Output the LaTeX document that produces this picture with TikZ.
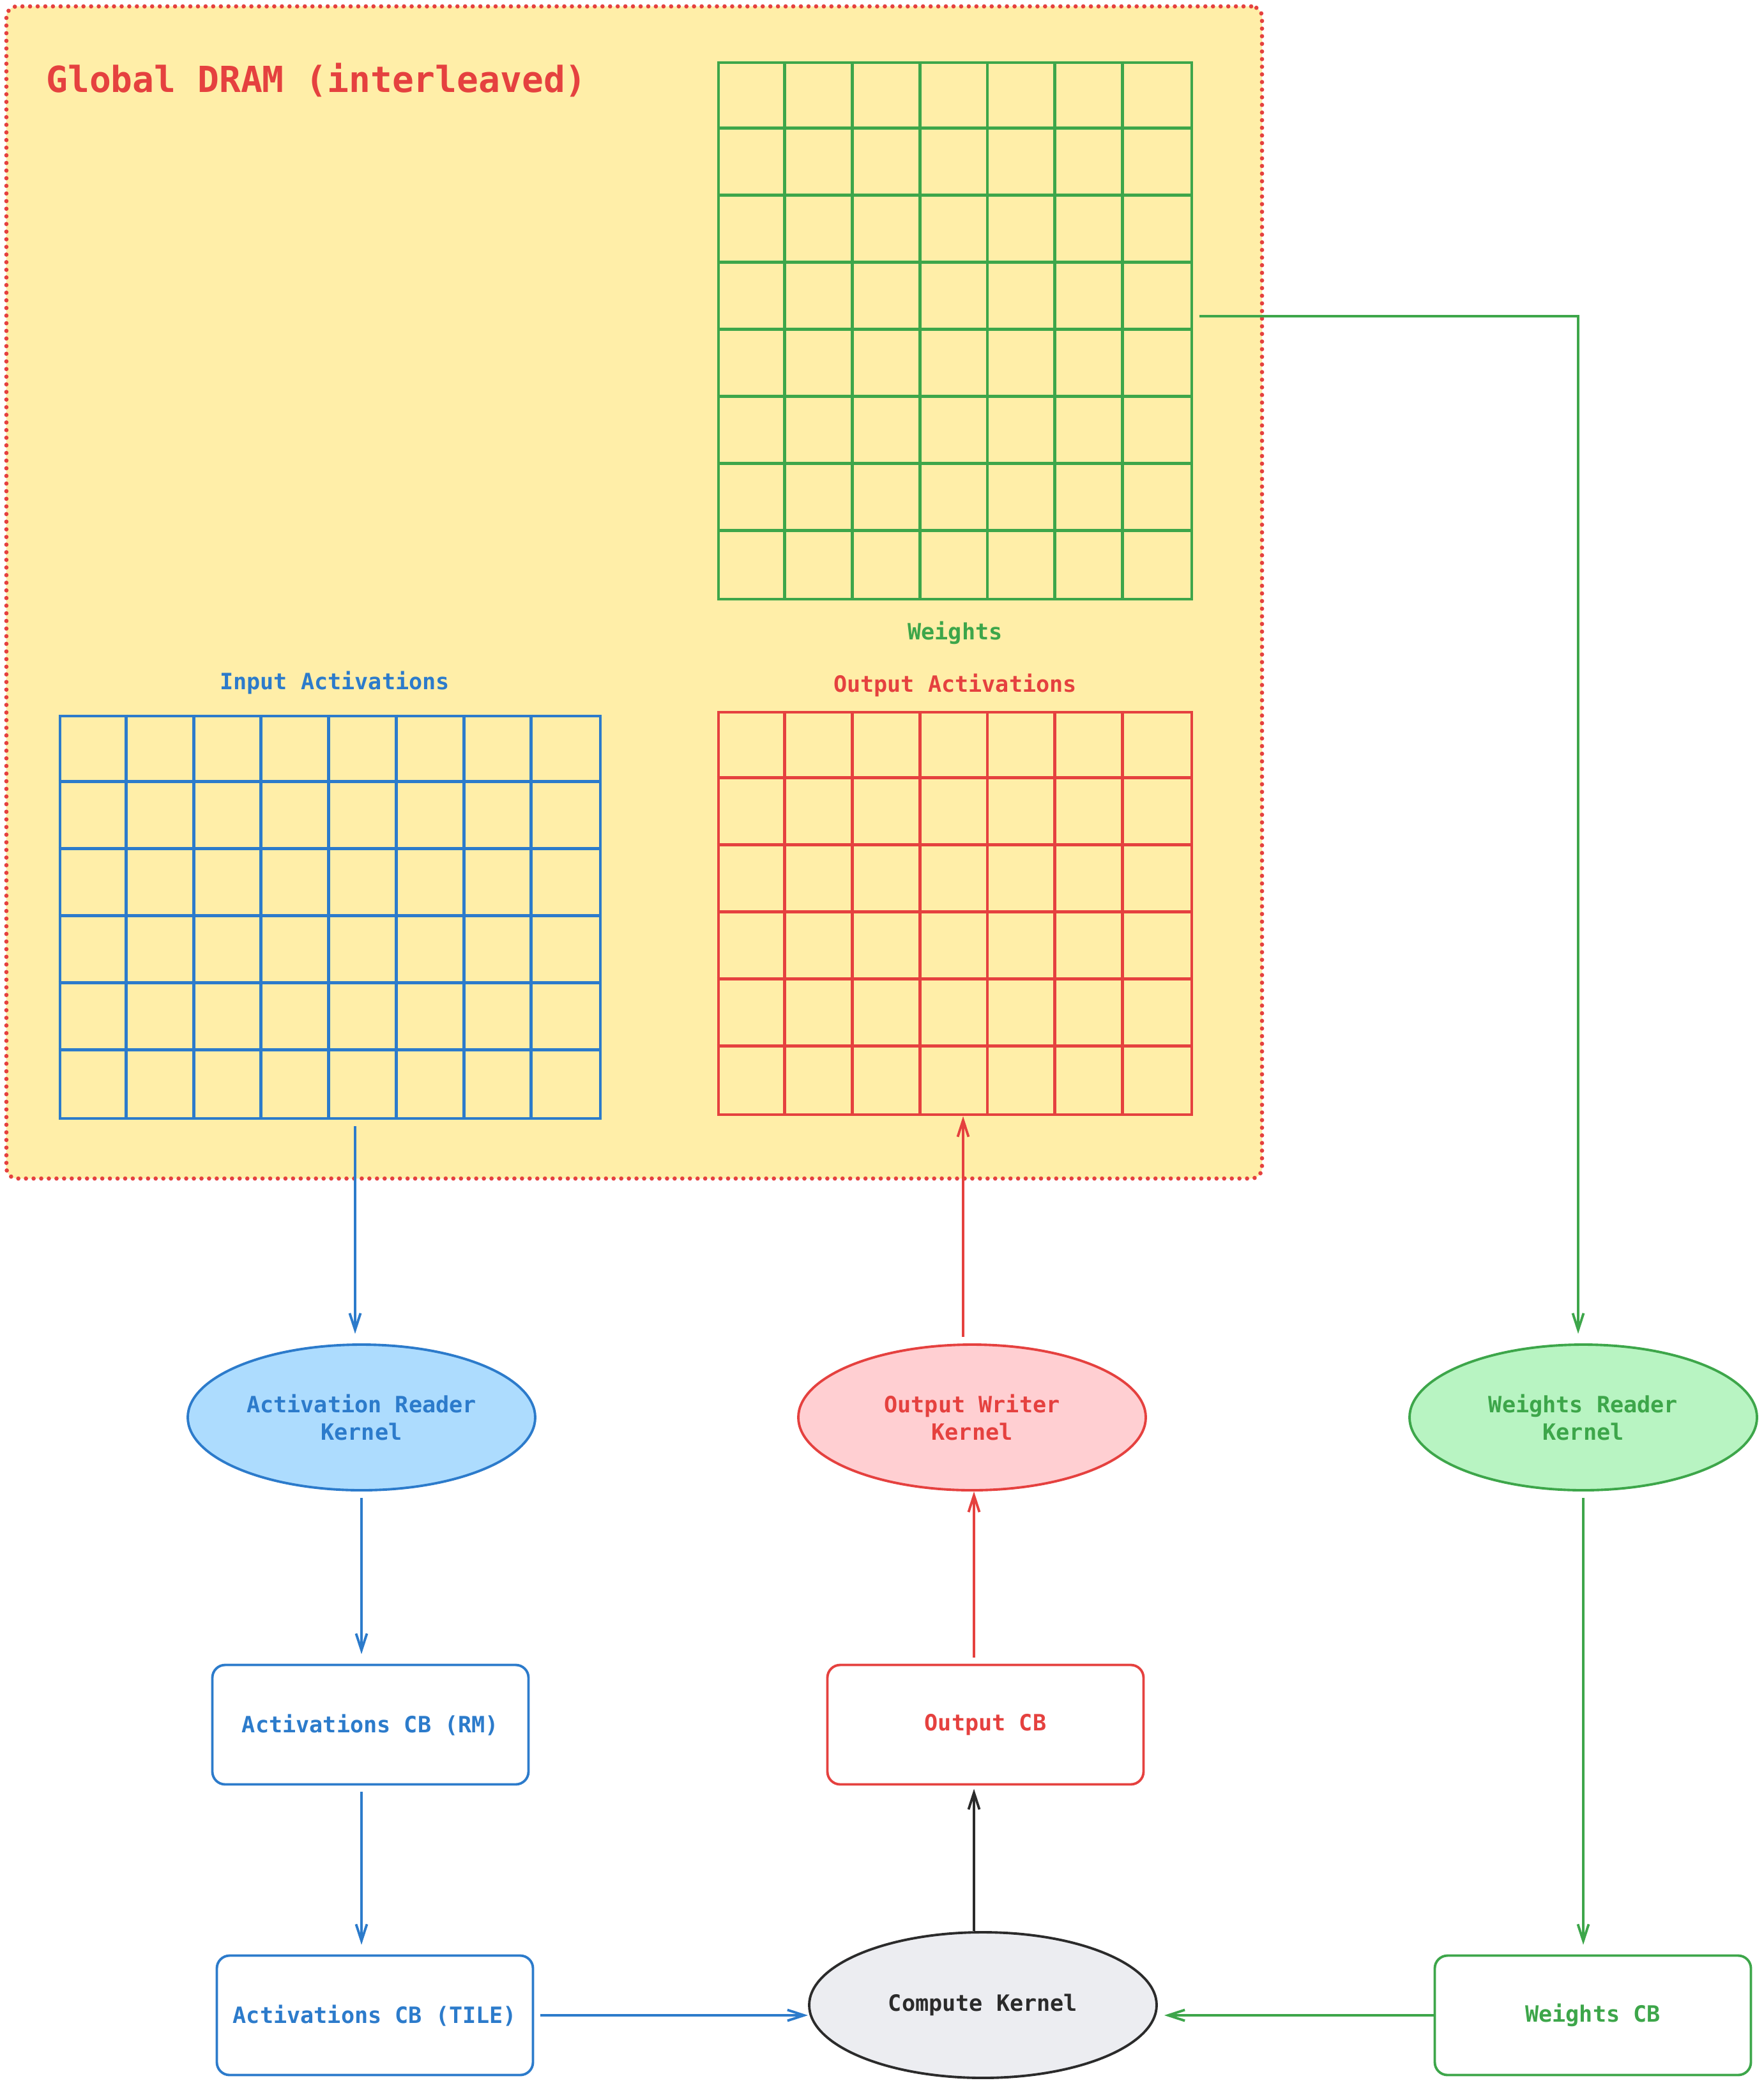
\documentclass[tikz,border=0pt]{standalone}
\usepackage{fontspec}
\setmainfont{DejaVu Sans Mono}
\usetikzlibrary{arrows.meta,calc,positioning,shapes.geometric}

\definecolor{dramfill}{HTML}{FFEEA8}
\definecolor{actblue}{HTML}{2C7BCB}
\definecolor{actfill}{HTML}{ADDCFE}
\definecolor{outred}{HTML}{E5413F}
\definecolor{outfill}{HTML}{FFCFD2}
\definecolor{wgtgreen}{HTML}{3DA64A}
\definecolor{wgtfill}{HTML}{B8F4C2}
\definecolor{cmpfill}{HTML}{ECEDF1}
\definecolor{cmpdark}{HTML}{2B2B2B}

\begin{document}
\begin{tikzpicture}[
	lbl/.style={font=\fontsize{10pt}{12pt}\selectfont\bfseries},
	kernel/.style={ellipse, draw, line width=1.1pt, minimum width=5.44cm, minimum height=2.28cm, align=center, lbl},
	cbuf/.style={rectangle, rounded corners=2mm, draw, fill=white, line width=1.1pt, minimum width=4.95cm, minimum height=1.87cm, lbl},
	tensor/.style={rectangle, draw, line width=1.4pt, inner sep=0pt},
	cell/.style={line width=1.4pt},
	link/.style={line width=1.1pt, -{Straight Barb[length=2.6mm,width=1.7mm]}, shorten <=1mm, shorten >=1.5mm},
	]
	\useasboundingbox (0,0) rectangle (27.62,-32.61);
	%
	\node[rectangle, rounded corners=1.7mm, draw=outred, fill=dramfill, line width=1.9pt, dash pattern=on 0pt off 3.4pt, line cap=round, minimum width=19.66cm, minimum height=18.35cm] (dram) at (9.93,-9.275) {};
	\node[anchor=west, text=outred, font=\fontsize{16pt}{19pt}\selectfont\bfseries] (title) at (0.6,-1.25) {Global DRAM (interleaved)};
	%
	\node[tensor, draw=wgtgreen, minimum width=7.41cm, minimum height=8.40cm] (wgt) at (14.955,-5.18) {};
	\foreach \i in {1,...,6}
		\draw[cell, wgtgreen] ($(wgt.north west)+(\i*1.0586,0)$) -- ($(wgt.south west)+(\i*1.0586,0)$);
	\foreach \j in {1,...,7}
		\draw[cell, wgtgreen] ($(wgt.north west)+(0,-\j*1.05)$) -- ($(wgt.north east)+(0,-\j*1.05)$);
	\node[lbl, text=wgtgreen] (wgtlbl) at ($(wgt.south)+(0,-0.5)$) {Weights};
	%
	\node[tensor, draw=actblue, minimum width=8.46cm, minimum height=6.30cm] (inact) at (5.17,-14.36) {};
	\foreach \i in {1,...,7}
		\draw[cell, actblue] ($(inact.north west)+(\i*1.0575,0)$) -- ($(inact.south west)+(\i*1.0575,0)$);
	\foreach \j in {1,...,5}
		\draw[cell, actblue] ($(inact.north west)+(0,-\j*1.05)$) -- ($(inact.north east)+(0,-\j*1.05)$);
	\node[lbl, text=actblue] (inlbl) at ($(inact.north)+(0.07,0.5)$) {Input Activations};
	%
	\node[tensor, draw=outred, minimum width=7.41cm, minimum height=6.30cm] (outact) at (14.955,-14.30) {};
	\foreach \i in {1,...,6}
		\draw[cell, outred] ($(outact.north west)+(\i*1.0586,0)$) -- ($(outact.south west)+(\i*1.0586,0)$);
	\foreach \j in {1,...,5}
		\draw[cell, outred] ($(outact.north west)+(0,-\j*1.05)$) -- ($(outact.north east)+(0,-\j*1.05)$);
	\node[lbl, text=outred] (outlbl) at ($(outact.north)+(0,0.4)$) {Output Activations};
	%
	\node[kernel, draw=actblue, fill=actfill, text=actblue] (ark) at (5.66,-22.19) {Activation Reader\\Kernel};
	\node[kernel, draw=outred, fill=outfill, text=outred] (owk) at (15.22,-22.19) {Output Writer\\Kernel};
	\node[kernel, draw=wgtgreen, fill=wgtfill, text=wgtgreen] (wrk) at (24.79,-22.19) {Weights Reader\\Kernel};
	\node[kernel, draw=cmpdark, fill=cmpfill, text=cmpdark] (ck) at (15.39,-31.39) {Compute Kernel};
	%
	\node[cbuf, draw=actblue, text=actblue] (acbrm) at (5.80,-27.00) {Activations CB (RM)};
	\node[cbuf, draw=outred, text=outred] (ocb) at (15.43,-27.00) {Output CB};
	\node[cbuf, draw=actblue, text=actblue] (acbtile) at (5.87,-31.55) {Activations CB (TILE)};
	\node[cbuf, draw=wgtgreen, text=wgtgreen] (wcb) at (24.94,-31.55) {Weights CB};
	%
	\draw[link, actblue] ([xshift=-1mm]ark.north |- inact.south) -- ([xshift=-1mm]ark.north);
	\draw[link, actblue] (ark.south) -- (ark.south |- acbrm.north);
	\draw[link, actblue] (ark.south |- acbrm.south) -- (ark.south |- acbtile.north);
	\draw[link, actblue, shorten >=0pt] (acbtile.east) -- (acbtile.east -| ck.west);
	\draw[link, wgtgreen, shorten <=0pt, shorten >=1mm] (wcb.west) -- (wcb.west -| ck.east);
	\draw[link, cmpdark, shorten <=0pt, shorten >=0.5mm] ([xshift=-1.4mm]ck.north) -- ([xshift=-1.4mm]ck.north |- ocb.south);
	\draw[link, outred, shorten >=0pt] ([xshift=-1.4mm]ck.north |- ocb.north) -- ([xshift=-1.4mm]ck.north |- owk.south);
	\draw[link, outred, shorten >=0pt] ([xshift=-1.4mm]owk.north) -- ([xshift=-1.4mm]owk.north |- outact.south);
	\draw[link, wgtgreen] ([yshift=2.3mm]wgt.east) -| ([xshift=-0.8mm]wrk.north);
	\draw[link, wgtgreen] (wrk.south) -- (wrk.south |- wcb.north);
\end{tikzpicture}
\end{document}
